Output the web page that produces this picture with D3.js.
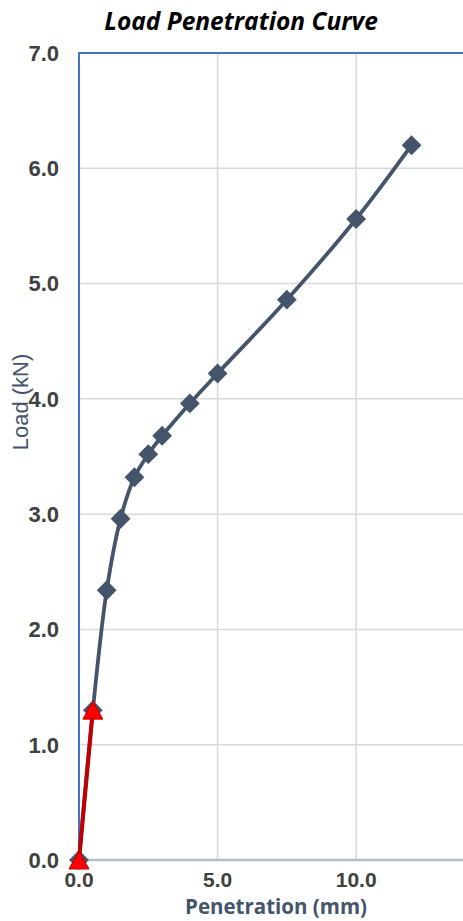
<!DOCTYPE html>
<html><head><meta charset="utf-8">
<script src="https://cdn.jsdelivr.net/npm/d3@7"></script>
<style>body{margin:0;background:#fff;overflow:hidden}</style>
</head><body>
<svg id="c" width="463" height="921"></svg>
<script>
const penetration = [0, 0.5, 1, 1.5, 2, 2.5, 3, 4, 5, 7.5, 10, 12];
const load = [0, 1.30, 2.34, 2.96, 3.32, 3.52, 3.68, 3.96, 4.22, 4.86, 5.56, 6.20];
const initialX = [0, 0.5];
const initialY = [0, 1.30];
const xTicks = [0, 5, 10];
const yTicks = [0, 1, 2, 3, 4, 5, 6, 7];

const svg = d3.select("#c");
const x = d3.scaleLinear().domain([0, 14]).range([79, 467]);
const y = d3.scaleLinear().domain([0, 7]).range([860, 53]);

// gridlines
svg.append("g").selectAll("line").data(yTicks.filter(d => d > 0 && d < 7)).join("line")
  .attr("x1", x(0)).attr("x2", 463).attr("y1", d => y(d)).attr("y2", d => y(d))
  .attr("stroke", "#d9d9d9").attr("stroke-width", 1.5);
svg.append("g").selectAll("line").data(xTicks.filter(d => d > 0)).join("line")
  .attr("x1", d => x(d)).attr("x2", d => x(d)).attr("y1", y(7)).attr("y2", y(0))
  .attr("stroke", "#d9d9d9").attr("stroke-width", 1.5);

// axes lines
svg.append("line").attr("x1", x(0)).attr("x2", 463).attr("y1", y(0)).attr("y2", y(0))
  .attr("stroke", "#b4bcc6").attr("stroke-width", 2.5);
svg.append("line").attr("x1", x(0)).attr("x2", 463).attr("y1", y(7)).attr("y2", y(7))
  .attr("stroke", "#4472c4").attr("stroke-width", 2);
svg.append("line").attr("x1", x(0)).attr("x2", x(0)).attr("y1", y(7) - 1).attr("y2", y(0))
  .attr("stroke", "#4472c4").attr("stroke-width", 2);

// tick labels
const fmt = d3.format(".1f");
svg.append("g").selectAll("text").data(yTicks).join("text")
  .attr("x", 59).attr("y", d => y(d)).attr("dy", "0.36em").attr("text-anchor", "end")
  .attr("font-family", "Liberation Sans, Arial, sans-serif").attr("font-weight", "bold")
  .attr("font-size", 22).attr("fill", "#404040").text(d => fmt(d));
svg.append("g").selectAll("text").data(xTicks).join("text")
  .attr("x", d => x(d)).attr("y", 887).attr("text-anchor", "middle")
  .attr("font-family", "Liberation Sans, Arial, sans-serif").attr("font-weight", "bold")
  .attr("font-size", 21).attr("fill", "#404040").text(d => fmt(d));

// axis titles
svg.append("text").attr("x", 276).attr("y", 914).attr("text-anchor", "middle")
  .attr("font-family", "Open Sans, sans-serif").attr("font-weight", "bold")
  .attr("font-size", 20.5).attr("fill", "#44546a").text("Penetration (mm)");
svg.append("text").attr("transform", "translate(28,402) rotate(-90)").attr("text-anchor", "middle")
  .attr("font-family", "Liberation Sans, Arial, sans-serif")
  .attr("font-size", 22).attr("fill", "#44546a").text("Load (kN)");

// title
svg.append("text").attr("x", 241).attr("y", 30).attr("text-anchor", "middle")
  .attr("font-family", "Open Sans, sans-serif").attr("font-weight", "bold").attr("font-style", "italic")
  .attr("font-size", 24.5).attr("fill", "#000").text("Load Penetration Curve");

// main curve
const pts = penetration.map((p, i) => [p, load[i]]);
const line = d3.line().x(d => x(d[0])).y(d => y(d[1])).curve(d3.curveCatmullRom.alpha(0.5));
svg.append("path").datum(pts).attr("d", line).attr("fill", "none")
  .attr("stroke", "#44546a").attr("stroke-width", 3.8);
svg.append("g").selectAll("path").data(pts).join("path")
  .attr("transform", d => `translate(${x(d[0])},${y(d[1])}) rotate(45)`)
  .attr("d", "M-7,-7H7V7H-7Z").attr("fill", "#44546a");

// initial red line
const ipts = initialX.map((p, i) => [p, initialY[i]]);
svg.append("path").datum(ipts).attr("d", d3.line().x(d => x(d[0])).y(d => y(d[1])))
  .attr("fill", "none").attr("stroke", "#c00000").attr("stroke-width", 4);
svg.append("g").selectAll("path").data(ipts).join("path")
  .attr("transform", d => `translate(${x(d[0])},${y(d[1])})`)
  .attr("d", "M0,-9L10,9H-10Z").attr("fill", "#ff0000").attr("stroke", "#c00000").attr("stroke-width", 1);
</script>
</body></html>
